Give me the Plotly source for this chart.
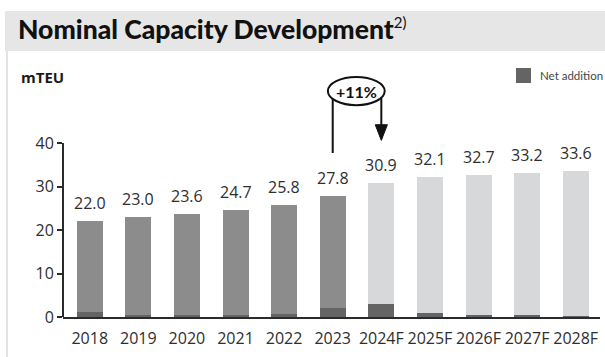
import plotly.graph_objects as go

# ---- data ----
categories = ["2018", "2019", "2020", "2021", "2022", "2023",
              "2024F", "2025F", "2026F", "2027F", "2028F"]
total_capacity = [22.0, 23.0, 23.6, 24.7, 25.8, 27.8, 30.9, 32.1, 32.7, 33.2, 33.6]
net_addition = [1.1, 0.5, 0.5, 0.5, 0.6, 2.0, 3.1, 1.0, 0.5, 0.4, 0.3]
is_forecast = [c.endswith("F") for c in categories]
y_ticks = [0, 10, 20, 30, 40]
growth_label = "+11%"

# ---- style ----
C_HIST = "#8c8c8c"
C_FCST = "#d6d8da"
C_NET = "#646464"
TXT = "#2e2e2e"
FONT = "Open Sans, Liberation Sans, sans-serif"
NARROW = "Lato, Liberation Sans, sans-serif"

W, H = 605, 357
ML, MR, MT, MB = 63, 5, 65, 40
plot_w = W - ML - MR
plot_h = H - MT - MB
Y_MAX = 40 * plot_h / 174.0
X0, X1 = -0.55, len(categories) - 0.5


def px(x):
    return (x - ML) / plot_w


def py(y):
    return (H - MB - y) / plot_h


remainder = [t - n for t, n in zip(total_capacity, net_addition)]
x_idx = list(range(len(categories)))

fig = go.Figure()
fig.add_trace(go.Bar(x=x_idx, y=net_addition, marker_color=C_NET,
                     marker_line_width=0, name="Net addition", showlegend=False))
fig.add_trace(go.Bar(x=x_idx, y=remainder,
                     marker_color=[C_FCST if f else C_HIST for f in is_forecast],
                     marker_line_width=0, showlegend=False))

annotations = []
for i, t in enumerate(total_capacity):
    annotations.append(dict(x=i, y=t, xref="x", yref="y", text=f"{t:.1f}",
                            showarrow=False, yanchor="bottom", yshift=5,
                            font=dict(family=FONT, size=16, color=TXT)))

# header title
annotations.append(dict(x=px(16), y=py(29), xref="paper", yref="paper",
                        text="Nominal Capacity Development"
                             "<sup><span style='font-size:15px;font-weight:normal'>2)</span></sup>",
                        showarrow=False,
                        xanchor="left", yanchor="middle",
                        font=dict(family=NARROW, size=26.5, color="#111111", weight=900)))
# unit label
annotations.append(dict(x=px(19), y=py(77), xref="paper", yref="paper",
                        text="mTEU", showarrow=False, xanchor="left", yanchor="middle",
                        font=dict(family=FONT, size=15, color="#1a1a1a", weight="bold")))
# legend text
annotations.append(dict(x=px(538), y=py(75), xref="paper", yref="paper",
                        text="Net addition", showarrow=False, xanchor="left", yanchor="middle",
                        font=dict(family=NARROW, size=11.5, color="#444444")))

# growth bubble
i23 = categories.index("2023")
i24 = categories.index("2024F")
ecx, ecy = (i23 + i24) / 2 - 0.015, 51.95
erx, ery = 0.585, 3.25
annotations.append(dict(x=ecx, y=ecy, xref="x", yref="y", text="<b>" + growth_label + "</b>",
                        showarrow=False, font=dict(family=NARROW, size=16, color="#111111")))

shapes = []
# header bar
shapes.append(dict(type="rect", xref="paper", yref="paper", x0=px(5), x1=px(W + 2),
                   y0=py(51), y1=py(11), fillcolor="#e6e6e6", line_width=0, layer="below"))
# left panel border
shapes.append(dict(type="line", xref="paper", yref="paper", x0=px(7), x1=px(7),
                   y0=py(51), y1=py(H), line=dict(color="#e3e3e3", width=2)))
# y axis line (0..40)
shapes.append(dict(type="line", xref="paper", yref="y", x0=0, x1=0,
                   y0=0, y1=y_ticks[-1], line=dict(color="#2a2a2a", width=2)))
# ellipse
shapes.append(dict(type="circle", xref="x", yref="y", x0=ecx - erx, x1=ecx + erx,
                   y0=ecy - ery, y1=ecy + ery, line=dict(color="#111111", width=2)))
# left line from 2023 label up to ellipse
shapes.append(dict(type="line", xref="x", yref="y", x0=i23, x1=i23,
                   y0=total_capacity[i23] + 9.9, y1=50.2, line=dict(color="#111111", width=2)))
# right line down to arrow
shapes.append(dict(type="line", xref="x", yref="y", x0=i24, x1=i24,
                   y0=50.4, y1=44.0, line=dict(color="#111111", width=2)))
shapes.append(dict(type="path", xref="x", yref="y",
                   path=f"M {i24-0.125},44.2 L {i24+0.125},44.2 L {i24},40.6 Z",
                   fillcolor="#111111", line=dict(color="#111111", width=1)))
# legend square
shapes.append(dict(type="rect", xref="paper", yref="paper", x0=px(516), x1=px(531),
                   y0=py(83), y1=py(68), fillcolor=C_NET, line_width=0))

fig.update_layout(
    width=W, height=H,
    margin=dict(l=ML, r=MR, t=MT, b=MB),
    paper_bgcolor="white", plot_bgcolor="white",
    barmode="stack", bargap=0.465,
    showlegend=False,
    annotations=annotations, shapes=shapes,
    font=dict(family=FONT, color=TXT),
)
fig.update_xaxes(range=[X0, X1], tickmode="array", tickvals=x_idx, ticktext=categories,
                 showgrid=False, zeroline=False, showline=True, linecolor="#2a2a2a",
                 linewidth=2, ticks="", ticklabelstandoff=6,
                 tickfont=dict(family=FONT, size=16, color=TXT))
fig.update_yaxes(range=[0, Y_MAX], tickmode="array", tickvals=y_ticks,
                 showgrid=False, zeroline=False, showline=False,
                 ticks="outside", ticklen=5, tickwidth=1.5, tickcolor="#2a2a2a",
                 tickfont=dict(family=FONT, size=16, color=TXT))

fig.write_html("out.html")
